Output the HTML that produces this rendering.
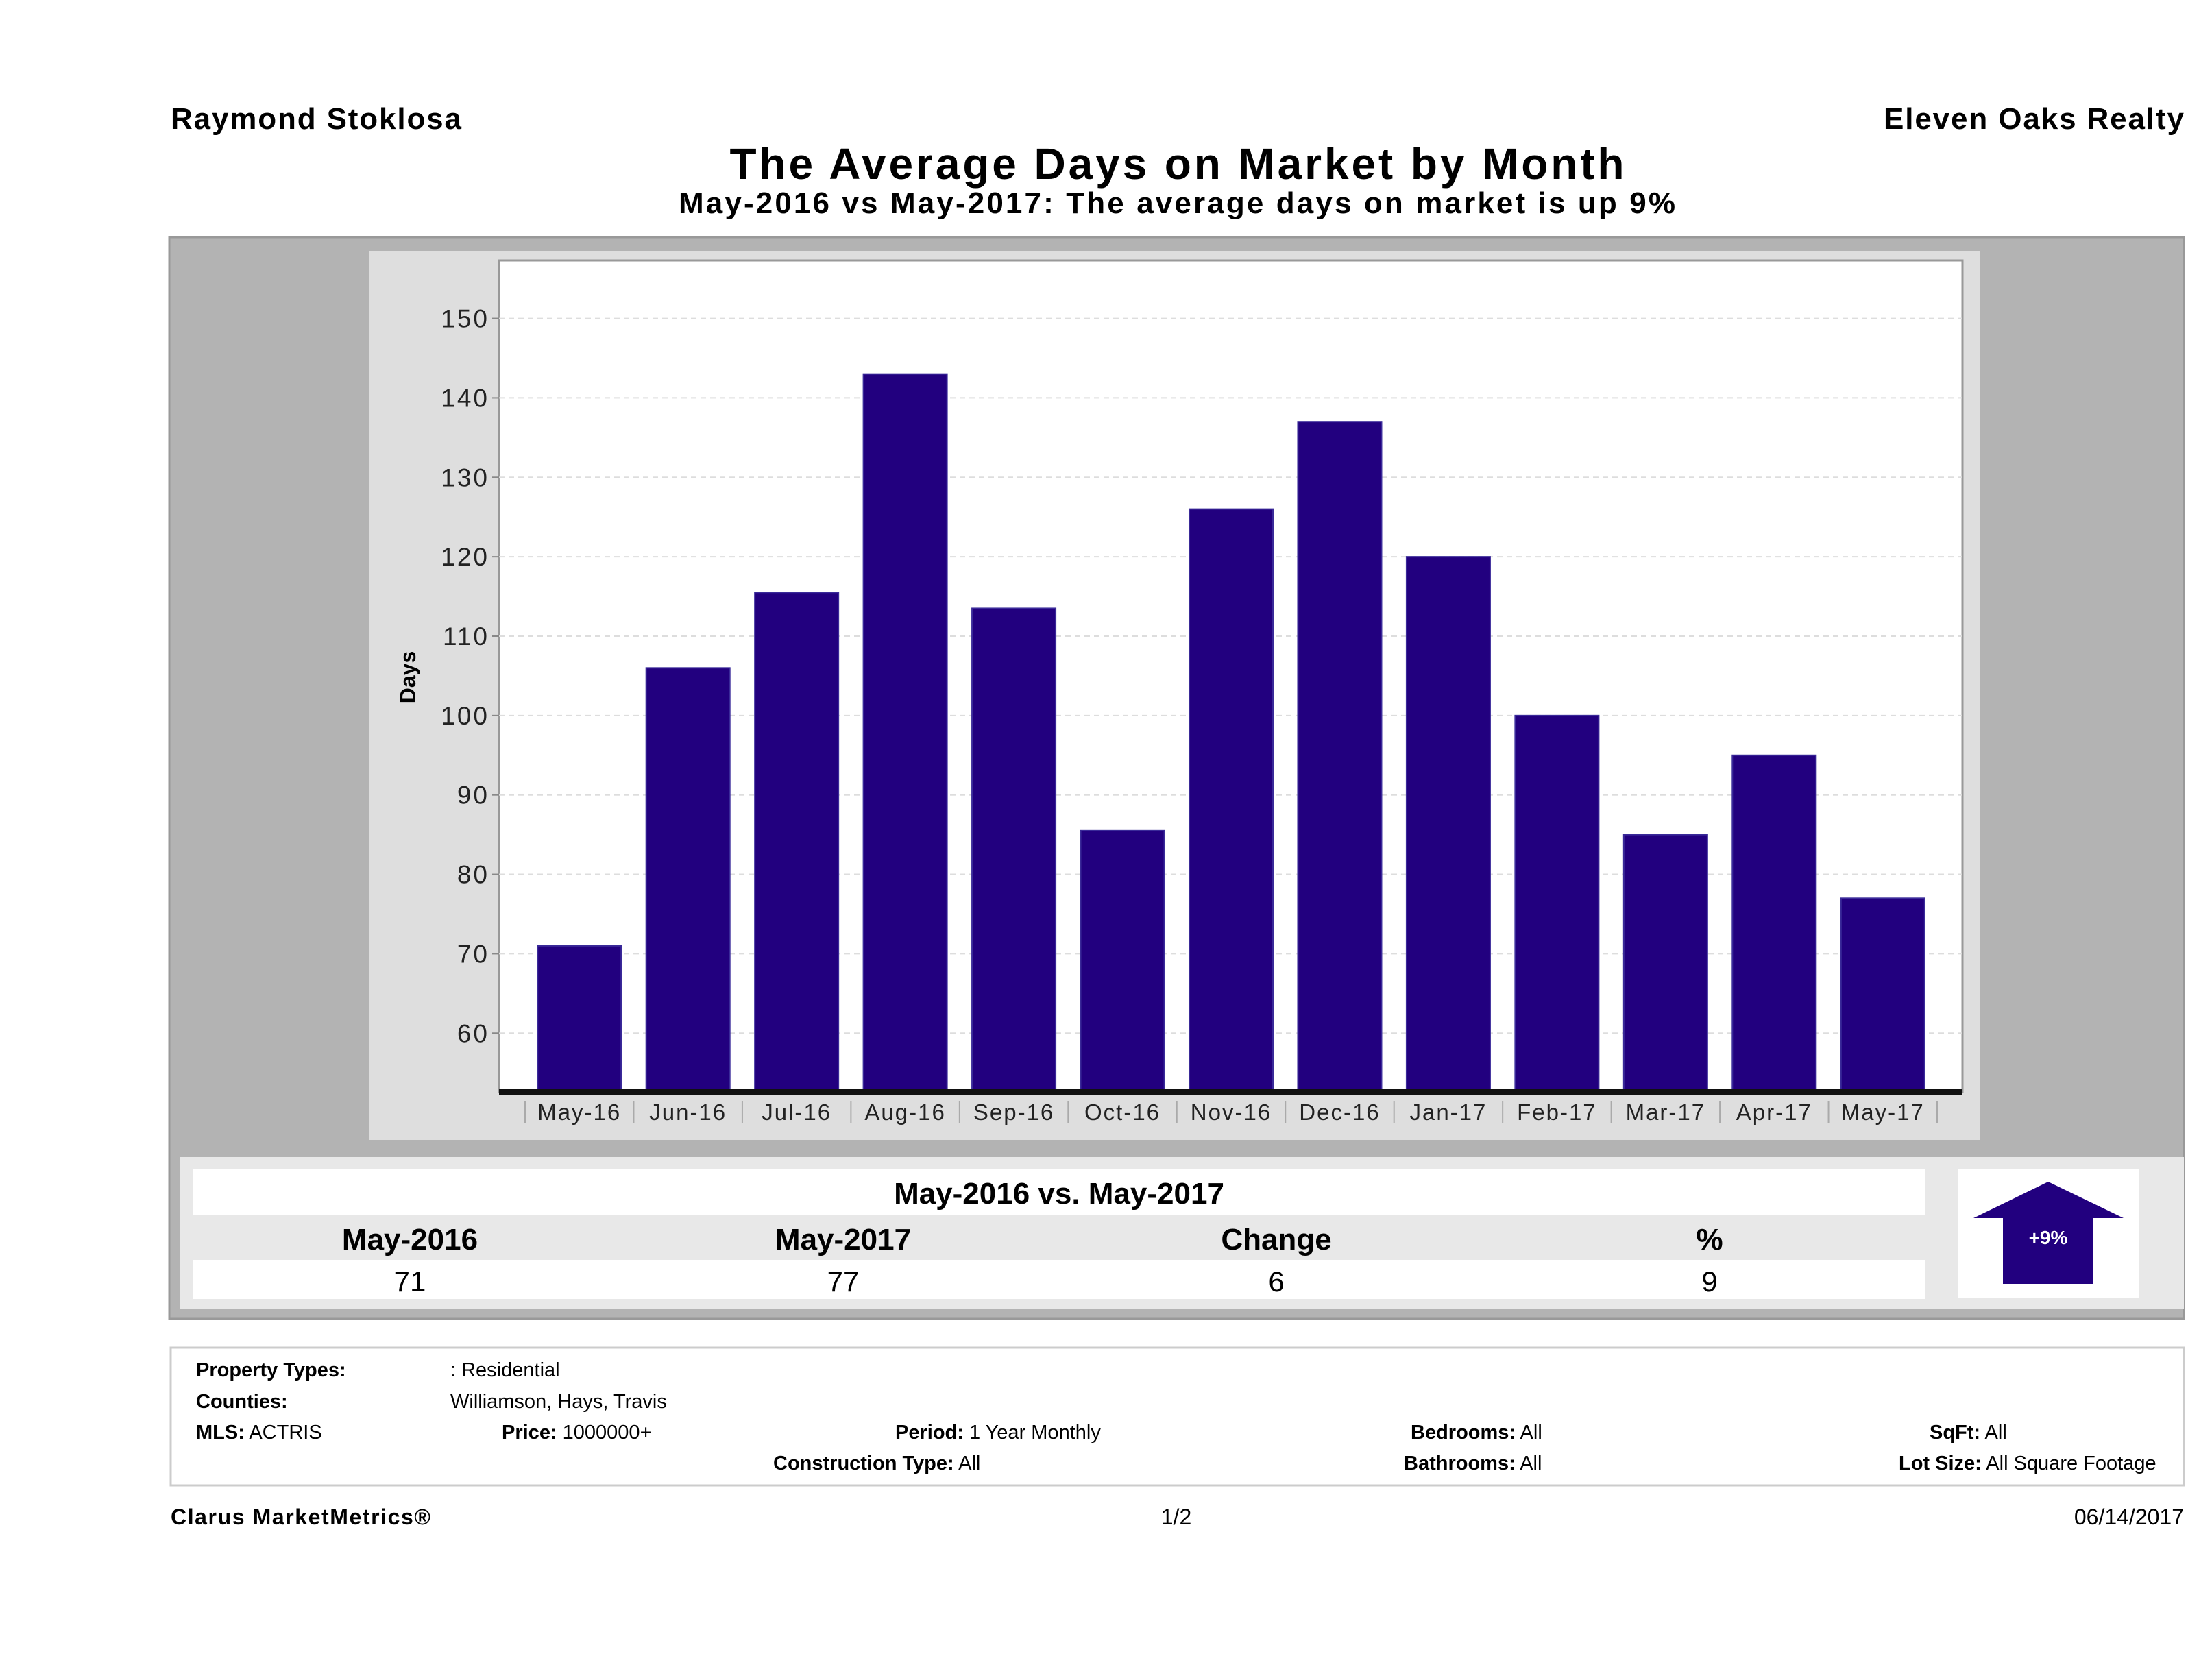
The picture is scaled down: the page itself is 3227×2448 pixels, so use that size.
<!DOCTYPE html>
<html><head><meta charset="utf-8"><style>
html,body{margin:0;padding:0;background:#fff;}
svg{display:block;font-family:"Liberation Sans","DejaVu Sans",sans-serif;}
</style></head><body>
<svg id="page" width="3227" height="2448" viewBox="0 0 3227 2448" xmlns="http://www.w3.org/2000/svg">
<text x="249" y="188" font-size="44" font-weight="bold" textLength="424">Raymond Stoklosa</text>
<text x="3186" y="188" font-size="44" font-weight="bold" text-anchor="end" textLength="438">Eleven Oaks Realty</text>
<text x="1717" y="261" font-size="64" font-weight="bold" text-anchor="middle" textLength="1305">The Average Days on Market by Month</text>
<text x="1717" y="311" font-size="44" font-weight="bold" text-anchor="middle" textLength="1454">May-2016 vs May-2017: The average days on market is up 9%</text>

<rect x="247" y="346" width="2939" height="1578" fill="#b3b3b3" stroke="#999" stroke-width="3"/>
<rect x="538" y="366" width="2350" height="1297" fill="#dedede"/>
<rect x="728" y="380" width="2135" height="1213" fill="#fff" stroke="#999" stroke-width="3"/>
<g id="grid"></g>
<g id="bars"></g>
<line x1="728" y1="1593" x2="2863" y2="1593" stroke="#111" stroke-width="8"/>
<g id="ticks"></g>
<text transform="translate(606,988) rotate(-90)" font-size="32" font-weight="bold" text-anchor="middle">Days</text>

<rect x="263" y="1688" width="2923" height="222" fill="#e8e8e8"/>
<rect x="282" y="1705" width="2527" height="67" fill="#fff"/>
<text x="1545" y="1756" font-size="44" font-weight="bold" text-anchor="middle">May-2016 vs. May-2017</text>
<text x="598" y="1823" font-size="44" font-weight="bold" text-anchor="middle">May-2016</text>
<text x="1230" y="1823" font-size="44" font-weight="bold" text-anchor="middle">May-2017</text>
<text x="1862" y="1823" font-size="44" font-weight="bold" text-anchor="middle">Change</text>
<text x="2494" y="1823" font-size="44" font-weight="bold" text-anchor="middle">%</text>
<rect x="282" y="1838" width="2527" height="57" fill="#fff"/>
<text x="598" y="1884" font-size="42" text-anchor="middle">71</text>
<text x="1230" y="1884" font-size="42" text-anchor="middle">77</text>
<text x="1862" y="1884" font-size="42" text-anchor="middle">6</text>
<text x="2494" y="1884" font-size="42" text-anchor="middle">9</text>
<rect x="2856" y="1705" width="265" height="188" fill="#fff"/>
<polygon points="2988,1724 3098,1777 3054,1777 3054,1873 2922,1873 2922,1777 2879,1777" fill="#22007f"/>
<text x="2988" y="1815" font-size="28" font-weight="bold" fill="#fff" text-anchor="middle">+9%</text>

<rect x="249" y="1966" width="2937" height="201" fill="#fff" stroke="#ccc" stroke-width="3"/>
<g font-size="29">
<text x="286" y="2008" font-weight="bold">Property Types:</text><text x="657" y="2008">: Residential</text>
<text x="286" y="2054" font-weight="bold">Counties:</text><text x="657" y="2054">Williamson, Hays, Travis</text>
<text x="286" y="2099"><tspan font-weight="bold">MLS:</tspan>  ACTRIS</text>
<text x="732" y="2099"><tspan font-weight="bold">Price:</tspan> 1000000+</text>
<text x="1306" y="2099"><tspan font-weight="bold">Period:</tspan> 1 Year Monthly</text>
<text x="2058" y="2099"><tspan font-weight="bold">Bedrooms:</tspan> All</text>
<text x="2815" y="2099"><tspan font-weight="bold">SqFt:</tspan>  All</text>
<text x="1128" y="2144"><tspan font-weight="bold">Construction Type:</tspan> All</text>
<text x="2048" y="2144"><tspan font-weight="bold">Bathrooms:</tspan> All</text>
<text x="2770" y="2144"><tspan font-weight="bold">Lot Size:</tspan>  All Square Footage</text>
</g>
<text x="249" y="2224" font-size="32" font-weight="bold" textLength="379">Clarus MarketMetrics®</text>
<text x="1716" y="2224" font-size="32" text-anchor="middle">1/2</text>
<text x="3186" y="2224" font-size="32" text-anchor="end">06/14/2017</text>
</svg>
<script>
const categories = ["May-16","Jun-16","Jul-16","Aug-16","Sep-16","Oct-16","Nov-16","Dec-16","Jan-17","Feb-17","Mar-17","Apr-17","May-17"];
const daysValues = [71,106,115.5,143,113.5,85.5,126,137,120,100,85,95,77];
const yTicks = [60,70,80,90,100,110,120,130,140,150];
const yMin = 52.6, yMax = 157.3;
const NS = "http://www.w3.org/2000/svg";
const plotL = 728, plotR = 2863, plotT = 380, plotB = 1593;
const bandL = 766, bandR = 2826;
function yScale(v){ return plotB - (v - yMin) / (yMax - yMin) * (plotB - plotT); }
const band = (bandR - bandL) / categories.length;
function xBand(i){ return bandL + i * band; }
function mk(tag, attrs){ const e = document.createElementNS(NS, tag); for (const k in attrs) e.setAttribute(k, attrs[k]); return e; }
const grid = document.getElementById('grid'), bars = document.getElementById('bars'), ticks = document.getElementById('ticks');
yTicks.forEach(t => {
  const y = yScale(t);
  const gl = mk('line', {x1: plotL, x2: plotR, y1: y, y2: y, stroke: '#ddd', 'stroke-width': 2, 'stroke-dasharray': '8,6'});
  
  
  grid.appendChild(gl);
  const tk = mk('line', {x1: plotL - 10, x2: plotL, y1: y, y2: y, stroke: '#888', 'stroke-width': 2});
  
  
  grid.appendChild(tk);
  const tx = mk('text', {x: plotL - 14, y: y + 13, 'font-size': 37, 'text-anchor': 'end', fill: '#222', 'letter-spacing': 3});
  tx.textContent = t;
  
  
  grid.appendChild(tx);
});
categories.forEach((c, i) => {
  const w = band * 0.77;
  const x = xBand(i) + (band - w) / 2;
  const y = yScale(daysValues[i]);
  const r = mk('rect', {x: x, y: y, width: w, height: plotB - y, fill: '#22007f', stroke: '#3a2a99', 'stroke-width': 2});
  
  
  bars.appendChild(r);
  const sep = mk('line', {x1: xBand(i), x2: xBand(i), y1: 1606, y2: 1638, stroke: '#aaa', 'stroke-width': 2});
  
  
  ticks.appendChild(sep);
  const lb = mk('text', {x: xBand(i) + band / 2, y: 1634, 'font-size': 33, 'text-anchor': 'middle', fill: '#222', 'letter-spacing': 2});
  lb.textContent = c;
  
  
  ticks.appendChild(lb);
});
const last = mk('line', {x1: xBand(13), x2: xBand(13), y1: 1606, y2: 1638, stroke: '#aaa', 'stroke-width': 2});


ticks.appendChild(last);
</script>
</body></html>
